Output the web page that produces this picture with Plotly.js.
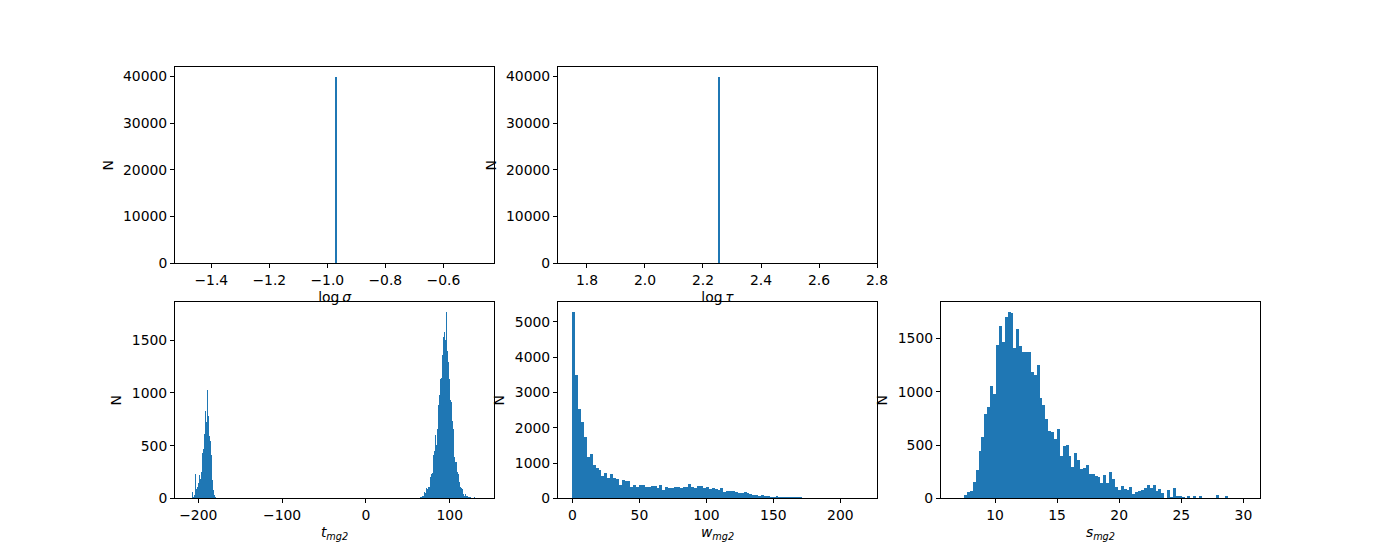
<!DOCTYPE html>
<html>
<head>
<meta charset="utf-8">
<script src="https://cdn.plot.ly/plotly-3.0.1.min.js"></script>
<style>html,body{margin:0;padding:0;background:#fff;}#chart{width:1400px;height:560px;}</style>
</head>
<body>
<div id="chart"></div>
<script>
// ---- data ----
// top row: all samples fall in a single bin (matplotlib range = value ± 0.5, 100 bins)
const logSigmaValue = -0.975;
const logSigmaCount = 40000;
const logTauValue = 2.25;
const logTauCount = 40000;
const topBins = 100;

// t_mg2 : 300 bins between tMin and tMax, two populated groups
const tMin = -210.5, tMax = 135.6, tBins = 300;
const tLeftStartBin = 3;
const tLeftCounts = [57, 10, 30, 228, 90, 110, 150, 220, 180, 250, 430, 470, 610, 830, 720, 1024, 780, 590, 540, 410, 170, 80, 30, 10];
const tRightStartBin = 238;
const tRightCounts = [10, 10, 25, 25, 40, 63, 55, 95, 85, 111,
  111, 200, 231, 238, 415, 453, 605, 507, 659, 881,
  976, 1135, 1141, 1357, 1531, 1579, 1500, 1769, 1395, 1293,
  1129, 929, 913, 738, 659, 421, 390, 349, 342, 247,
  231, 152, 105, 95, 89, 41, 25, 41, 19, 25,
  15, 10, 10, 0, 5, 0, 10];

// w_mg2 : 100 bins
const wMin = 0, wMax = 216.6;
const wCounts = [5284, 3485, 2519, 2159, 1752, 1184, 1269, 956, 852, 814,
  644, 729, 587, 701, 587, 559, 388, 530, 483, 502,
  331, 388, 331, 388, 388, 331, 331, 360, 360, 284,
  388, 246, 331, 303, 303, 331, 331, 290, 322, 322,
  407, 322, 294, 341, 341, 303, 322, 256, 284, 265,
  227, 294, 180, 208, 208, 208, 180, 161, 152, 170,
  142, 123, 95, 95, 66, 85, 66, 66, 38, 30,
  57, 30, 30, 28, 30, 28, 28, 26, 28, 6,
  5, 4, 3, 3, 2, 2, 1, 1, 1, 0,
  1, 0, 0, 0, 1, 0, 0, 0, 0, 1];

// s_mg2 : 100 bins
const sMin = 6.81, sMax = 30.17;
const sCounts = [6, 0, 0, 35, 63, 72, 157, 270, 443, 571,
  788, 854, 1052, 977, 1438, 1617, 1470, 1702, 1749, 1740,
  1413, 1589, 1429, 1372, 1372, 1372, 1184, 1159, 1250, 939,
  873, 741, 628, 619, 553, 647, 402, 487, 496, 393,
  298, 421, 364, 279, 289, 317, 232, 232, 214, 204,
  148, 223, 148, 251, 185, 110, 82, 119, 91, 82,
  110, 44, 63, 72, 82, 100, 129, 100, 129, 72,
  91, 53, 6, 82, 16, 100, 25, 25, 16, 6,
  25, 6, 25, 6, 25, 6, 6, 6, 0, 0,
  35, 0, 0, 25, 0, 0, 0, 0, 0, 6];

// ---- helpers ----
const BLUE = '#1f77b4';
const FONT = 'DejaVu Sans, Liberation Sans, sans-serif';
const FS = 13.9;

function histTrace(lo, hi, counts, xa, ya) {
  const w = (hi - lo) / counts.length;
  const x = counts.map((_, i) => lo + (i + 0.5) * w);
  return {type: 'bar', x: x, y: counts, width: w, xaxis: xa, yaxis: ya,
    marker: {color: BLUE, line: {width: 0}}, hoverinfo: 'skip', showlegend: false};
}
function singleBin(value, count) {
  const lo = value - 0.5, hi = value + 0.5;
  const arr = new Array(topBins).fill(0);
  const idx = Math.min(topBins - 1, Math.floor((value - lo) / (hi - lo) * topBins + 1e-9));
  arr[idx] = count;
  return {lo: lo, hi: hi, counts: arr};
}
function padRange(lo, hi) { const m = 0.05 * (hi - lo); return [lo - m, hi + m]; }
function yTop(counts) { return [0, 1.05 * Math.max.apply(null, counts)]; }

const sig = singleBin(logSigmaValue, logSigmaCount);
const tau = singleBin(logTauValue, logTauCount);
const tCounts = new Array(tBins).fill(0);
tLeftCounts.forEach((c, i) => { tCounts[tLeftStartBin + i] = c; });
tRightCounts.forEach((c, i) => { tCounts[tRightStartBin + i] = c; });

const traces = [
  histTrace(sig.lo, sig.hi, sig.counts, 'x', 'y'),
  histTrace(tau.lo, tau.hi, tau.counts, 'x2', 'y2'),
  histTrace(tMin, tMax, tCounts, 'x3', 'y3'),
  histTrace(wMin, wMax, wCounts, 'x4', 'y4'),
  histTrace(sMin, sMax, sCounts, 'x5', 'y5')
];

function ax(extra) {
  return Object.assign({
    showgrid: false, zeroline: false, showline: true, linecolor: '#000', linewidth: 1,
    mirror: true, ticks: 'outside', ticklen: 4, tickwidth: 1, tickcolor: '#000',
    tickfont: {family: FONT, size: FS, color: '#000'}, fixedrange: true
  }, extra);
}
function xt(text) { return {text: text, font: {family: FONT, size: FS, color: '#000'}, standoff: 5}; }
function yt() { return {text: 'N', font: {family: FONT, size: FS, color: '#000'}, standoff: 6}; }

const colW = 0.775 / 3.4;
const gap = colW * 0.2;
const c1 = [0.125, 0.125 + colW];
const c2 = [c1[1] + gap, c1[1] + gap + colW];
const c3 = [c2[1] + gap, c2[1] + gap + colW];
const rowH = 0.77 / 2.2;
const r2 = [0.11, 0.11 + rowH];
const r1 = [r2[1] + rowH * 0.2, 0.88];

const layout = {
  width: 1400, height: 560,
  margin: {l: 0, r: 0, t: 0, b: 0},
  paper_bgcolor: '#fff', plot_bgcolor: '#fff',
  showlegend: false, bargap: 0,
  font: {family: FONT, size: FS, color: '#000'},
  xaxis: ax({domain: c1, anchor: 'y', range: padRange(sig.lo, sig.hi), tickvals: [-1.4, -1.2, -1.0, -0.8, -0.6], tickformat: '.1f',
    title: xt('log\u2009<i>σ</i>')}),
  yaxis: ax({domain: r1, anchor: 'x', range: yTop(sig.counts), dtick: 10000, tickformat: 'd', title: yt()}),
  xaxis2: ax({domain: c2, anchor: 'y2', range: padRange(tau.lo, tau.hi), tickvals: [1.8, 2.0, 2.2, 2.4, 2.6, 2.8], tickformat: '.1f',
    title: xt('log\u2009<i>τ</i>')}),
  yaxis2: ax({domain: r1, anchor: 'x2', range: yTop(tau.counts), dtick: 10000, tickformat: 'd', title: yt()}),
  xaxis3: ax({domain: c1, anchor: 'y3', range: padRange(tMin, tMax), tickvals: [-200, -100, 0, 100], tickformat: 'd',
    title: xt('<i>t</i><sub><i>mg2</i></sub>')}),
  yaxis3: ax({domain: r2, anchor: 'x3', range: yTop(tCounts), dtick: 500, tick0: 0, tickformat: 'd', title: yt()}),
  xaxis4: ax({domain: c2, anchor: 'y4', range: padRange(wMin, wMax), tickvals: [0, 50, 100, 150, 200], tickformat: 'd',
    title: xt('<i>w</i><sub><i>mg2</i></sub>')}),
  yaxis4: ax({domain: r2, anchor: 'x4', range: yTop(wCounts), dtick: 1000, tick0: 0, tickformat: 'd', title: yt()}),
  xaxis5: ax({domain: c3, anchor: 'y5', range: padRange(sMin, sMax), tickvals: [10, 15, 20, 25, 30], tickformat: 'd',
    title: xt('<i>s</i><sub><i>mg2</i></sub>')}),
  yaxis5: ax({domain: r2, anchor: 'x5', range: yTop(sCounts), dtick: 500, tick0: 0, tickformat: 'd', title: yt()})
};

Plotly.newPlot('chart', traces, layout, {staticPlot: true, displayModeBar: false});
</script>
</body>
</html>
